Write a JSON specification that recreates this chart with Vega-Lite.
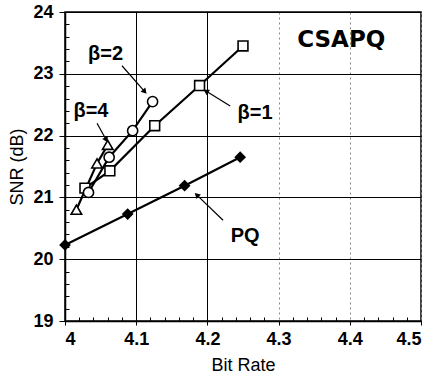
{
  "$schema": "https://vega.github.io/schema/vega-lite/v6.json",
  "width": 356,
  "height": 309,
  "autosize": {"type": "none"},
  "padding": {"left": 65, "top": 12, "right": 13, "bottom": 59},
  "background": "white",
  "config": {
    "view": {"stroke": "black", "strokeWidth": 1.5},
    "font": "Liberation Sans",
    "axis": {
      "labelFont": "Liberation Sans",
      "titleFont": "Liberation Sans",
      "labelFontSize": 18,
      "labelFontWeight": "bold",
      "labelColor": "black",
      "titleFontSize": 18,
      "titleFontWeight": "normal",
      "titleColor": "black",
      "domainColor": "black",
      "domainWidth": 1.5,
      "tickColor": "black",
      "gridColor": "black",
      "gridOpacity": 1,
      "gridWidth": 1
    }
  },
  "datasets": {
    "series": [
      {"series": "PQ", "rate": 4.0, "snr": 20.23},
      {"series": "PQ", "rate": 4.088, "snr": 20.73},
      {"series": "PQ", "rate": 4.168, "snr": 21.19},
      {"series": "PQ", "rate": 4.246, "snr": 21.65},
      {"series": "β=1", "rate": 4.028, "snr": 21.15},
      {"series": "β=1", "rate": 4.063, "snr": 21.43},
      {"series": "β=1", "rate": 4.126, "snr": 22.16},
      {"series": "β=1", "rate": 4.189, "snr": 22.81},
      {"series": "β=1", "rate": 4.25, "snr": 23.45},
      {"series": "β=2", "rate": 4.033, "snr": 21.08},
      {"series": "β=2", "rate": 4.062, "snr": 21.65},
      {"series": "β=2", "rate": 4.095, "snr": 22.08},
      {"series": "β=2", "rate": 4.123, "snr": 22.55},
      {"series": "β=4", "rate": 4.016, "snr": 20.8},
      {"series": "β=4", "rate": 4.045, "snr": 21.55},
      {"series": "β=4", "rate": 4.06, "snr": 21.85}
    ],
    "title": [
      {"text": "CSAPQ", "rate": 4.388, "snr": 23.55}
    ],
    "labels": [
      {"text": "β=2", "rate": 4.057, "snr": 23.32},
      {"text": "β=4", "rate": 4.0365, "snr": 22.4},
      {"text": "β=1", "rate": 4.267, "snr": 22.37},
      {"text": "PQ", "rate": 4.253, "snr": 20.38}
    ],
    "arrows": [
      {"label": "β=2", "rate": 4.08, "snr": 23.13, "rate2": 4.112, "snr2": 22.71},
      {"label": "β=4", "rate": 4.045, "snr": 22.2, "rate2": 4.058, "snr2": 21.93},
      {"label": "β=1", "rate": 4.232, "snr": 22.48, "rate2": 4.198, "snr2": 22.72},
      {"label": "PQ", "rate": 4.222, "snr": 20.63, "rate2": 4.185, "snr2": 21.04}
    ]
  },
  "resolve": {"axis": {"x": "independent", "y": "independent"}},
  "layer": [
    {
      "data": {"name": "series"},
      "mark": {"type": "line", "color": "black", "strokeWidth": 2.2},
      "encoding": {
        "x": {
          "field": "rate", "type": "quantitative",
          "scale": {"domain": [4, 4.5], "nice": false, "zero": false},
          "axis": {
            "orient": "bottom",
            "title": "Bit Rate",
            "values": [4, 4.1, 4.2, 4.3, 4.4, 4.5],
            "format": "~g",
            "tickSize": 4,
            "labelPadding": 5,
            "titlePadding": 8,
            "grid": true,
            "gridDash": {"condition": {"test": "datum.value > 4.25", "value": [2, 3]}, "value": []},
            "gridColor": {"condition": {"test": "datum.value > 4.25", "value": "#888888"}, "value": "black"}
          }
        },
        "y": {
          "field": "snr", "type": "quantitative",
          "scale": {"domain": [19, 24], "nice": false, "zero": false},
          "axis": {
            "orient": "left",
            "title": "SNR (dB)",
            "values": [19, 20, 21, 22, 23, 24],
            "tickSize": 6,
            "labelPadding": 6,
            "titlePadding": 6,
            "grid": true
          }
        },
        "detail": {"field": "series"}
      }
    },
    {
      "data": {"name": "series"},
      "mark": {"type": "point", "opacity": 1, "strokeWidth": 1.6, "stroke": "black"},
      "encoding": {
        "x": {"field": "rate", "type": "quantitative", "axis": {"orient": "bottom", "values": [4.02,4.04,4.06,4.08,4.12,4.14,4.16,4.18,4.22,4.24,4.26,4.28,4.32,4.34,4.36,4.38,4.42,4.44,4.46,4.48], "labels": false, "domain": false, "grid": false, "title": null, "tickSize": -4, "tickWidth": 1}},
        "y": {"field": "snr", "type": "quantitative", "axis": {"orient": "left", "values": [19.2,19.4,19.6,19.8,20.2,20.4,20.6,20.8,21.2,21.4,21.6,21.8,22.2,22.4,22.6,22.8,23.2,23.4,23.6,23.8], "labels": false, "domain": false, "grid": false, "title": null, "tickSize": -4, "tickWidth": 1}},
        "shape": {
          "field": "series", "type": "nominal",
          "scale": {"domain": ["PQ", "β=1", "β=2", "β=4"], "range": ["diamond", "square", "circle", "triangle-up"]},
          "legend": null
        },
        "fill": {
          "field": "series", "type": "nominal",
          "scale": {"domain": ["PQ", "β=1", "β=2", "β=4"], "range": ["black", "white", "white", "white"]},
          "legend": null
        },
        "size": {
          "field": "series", "type": "nominal",
          "scale": {"domain": ["PQ", "β=1", "β=2", "β=4"], "range": [90, 110, 100, 90]},
          "legend": null
        }
      }
    },
    {
      "data": {"name": "arrows"},
      "mark": {"type": "rule", "color": "black", "strokeWidth": 1.2},
      "encoding": {
        "x": {"field": "rate", "type": "quantitative", "axis": null},
        "y": {"field": "snr", "type": "quantitative", "axis": null},
        "x2": {"field": "rate2"},
        "y2": {"field": "snr2"}
      }
    },
    {
      "data": {"name": "arrows"},
      "transform": [
        {"calculate": "atan2((datum.rate2 - datum.rate) * 712, (datum.snr2 - datum.snr) * 61.8) * 180 / PI", "as": "ang"}
      ],
      "mark": {"type": "point", "shape": "triangle-up", "filled": true, "color": "black", "size": 40, "opacity": 1},
      "encoding": {
        "x": {"field": "rate2", "type": "quantitative", "axis": null},
        "y": {"field": "snr2", "type": "quantitative", "axis": null},
        "angle": {"field": "ang", "type": "quantitative", "scale": null}
      }
    },
    {
      "data": {"name": "labels"},
      "mark": {"type": "text", "font": "Liberation Sans", "fontWeight": "bold", "fontSize": 20, "color": "black", "align": "center", "baseline": "middle"},
      "encoding": {
        "x": {"field": "rate", "type": "quantitative", "axis": null},
        "y": {"field": "snr", "type": "quantitative", "axis": null},
        "text": {"field": "text"}
      }
    },
    {
      "data": {"name": "title"},
      "mark": {"type": "text", "font": "DejaVu Sans", "fontWeight": "bold", "fontSize": 23, "color": "black", "align": "center", "baseline": "middle"},
      "encoding": {
        "x": {"field": "rate", "type": "quantitative", "axis": null},
        "y": {"field": "snr", "type": "quantitative", "axis": null},
        "text": {"field": "text"}
      }
    }
  ]
}
